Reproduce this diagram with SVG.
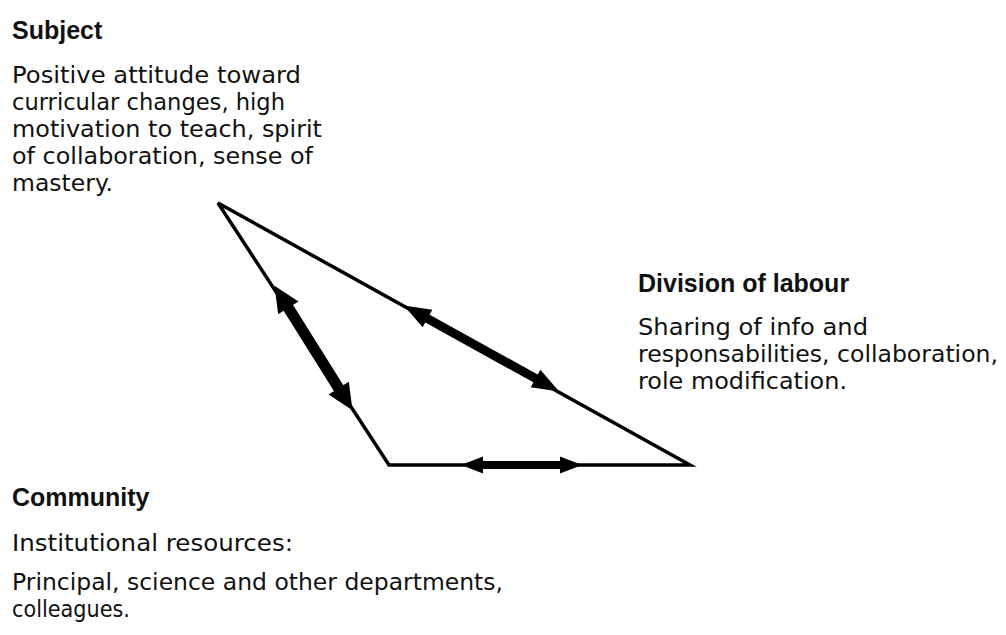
<svg xmlns="http://www.w3.org/2000/svg" width="1006" height="635" viewBox="0 0 1006 635">
<style>
.h{font-family:"Liberation Sans",Arial,sans-serif;font-weight:bold;font-size:25px;fill:#111}
.b{font-family:"Comic Sans MS","DejaVu Sans","Liberation Sans",sans-serif;font-size:23px;fill:#111}
.edge{stroke:#000;stroke-width:3.5;fill:none;stroke-linejoin:miter}
.arr{stroke:#000;fill:none}
</style>
<defs>
<marker id="ahL" markerUnits="userSpaceOnUse" markerWidth="30" markerHeight="28" refX="1" refY="12" orient="auto-start-reverse" overflow="visible">
<path d="M0,0 L26,12 L0,24 Z" fill="#000"/>
</marker>
<marker id="ahM" markerUnits="userSpaceOnUse" markerWidth="30" markerHeight="24" refX="1" refY="10" orient="auto-start-reverse" overflow="visible">
<path d="M0,0 L27,10 L0,20 Z" fill="#000"/>
</marker>
<marker id="ahS" markerUnits="userSpaceOnUse" markerWidth="26" markerHeight="20" refX="1" refY="8.5" orient="auto-start-reverse" overflow="visible">
<path d="M0,0 L22,8.5 L0,17 Z" fill="#000"/>
</marker>
</defs>
<rect width="1006" height="635" fill="#fff"/>
<g id="connectors">
<polygon class="edge" points="218,203 389,465 690,465"/>
<line class="arr" x1="287.8" y1="307" x2="339.2" y2="389" stroke-width="11" marker-start="url(#ahL)" marker-end="url(#ahL)"/>
<line class="arr" x1="426.6" y1="318.1" x2="536.4" y2="378.9" stroke-width="9" marker-start="url(#ahM)" marker-end="url(#ahM)"/>
<line class="arr" x1="482" y1="465" x2="561" y2="465" stroke-width="8" marker-start="url(#ahS)" marker-end="url(#ahS)"/>
</g>
<g id="subject">
<text class="h" x="12" y="39">Subject</text>
<text class="b" x="12" y="83" textLength="289" lengthAdjust="spacingAndGlyphs">Positive attitude toward</text>
<text class="b" x="12" y="110" textLength="273" lengthAdjust="spacingAndGlyphs">curricular changes, high</text>
<text class="b" x="12" y="137" textLength="310" lengthAdjust="spacingAndGlyphs">motivation to teach, spirit</text>
<text class="b" x="12" y="164" textLength="301" lengthAdjust="spacingAndGlyphs">of collaboration, sense of</text>
<text class="b" x="12" y="191" textLength="101" lengthAdjust="spacingAndGlyphs">mastery.</text>
</g>
<g id="division">
<text class="h" x="638" y="292">Division of labour</text>
<text class="b" x="638" y="335" textLength="230" lengthAdjust="spacingAndGlyphs">Sharing of info and</text>
<text class="b" x="638" y="362" textLength="360" lengthAdjust="spacingAndGlyphs">responsabilities, collaboration,</text>
<text class="b" x="638" y="389" textLength="209" lengthAdjust="spacingAndGlyphs">role modification.</text>
</g>
<g id="community">
<text class="h" x="12" y="506">Community</text>
<text class="b" x="12" y="551" textLength="281" lengthAdjust="spacingAndGlyphs">Institutional resources:</text>
<text class="b" x="12" y="590" textLength="491" lengthAdjust="spacingAndGlyphs">Principal, science and other departments,</text>
<text class="b" x="12" y="617" textLength="118" lengthAdjust="spacingAndGlyphs">colleagues.</text>
</g>
</svg>
